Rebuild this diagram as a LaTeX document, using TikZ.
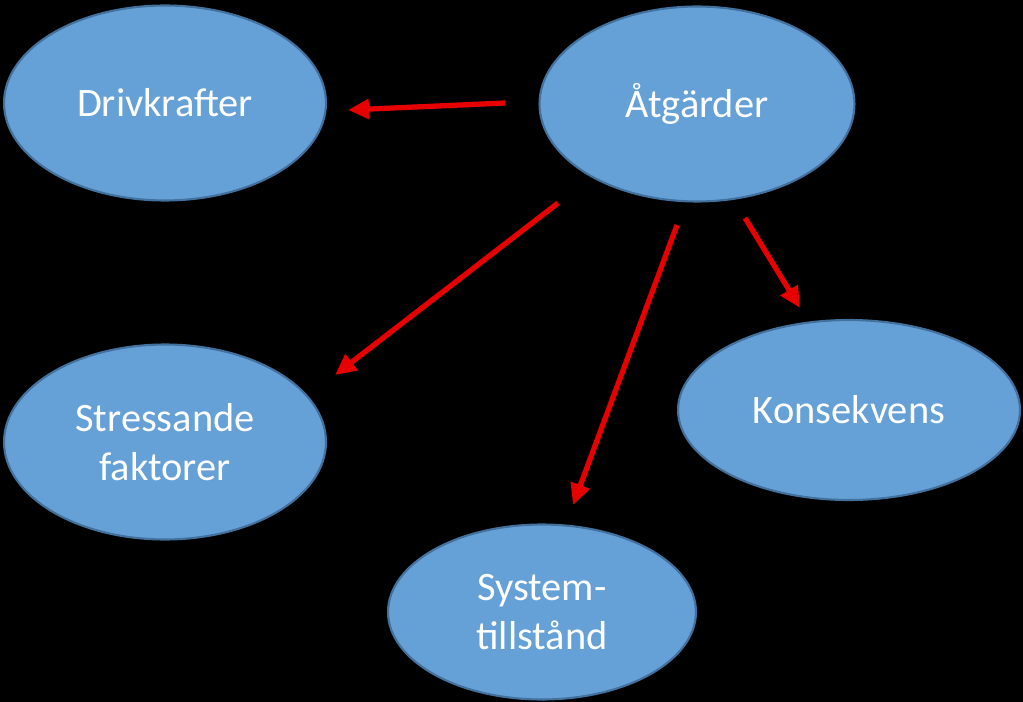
\documentclass[tikz,border=0pt]{standalone}
\usepackage{fontspec}
\setmainfont{Carlito}
\usetikzlibrary{arrows.meta,shapes.geometric}
\definecolor{blob}{RGB}{101,160,214}
\definecolor{blobrim}{RGB}{65,113,156}
\definecolor{pil}{RGB}{230,0,0}
\begin{document}
\begin{tikzpicture}[x=0.02cm,y=-0.02cm,
    blobnode/.style={ellipse,fill=blob,draw=blobrim,line width=1.2pt,text=white,
      align=center,font=\fontsize{23}{28}\selectfont,inner sep=0pt},
    pilen/.style={pil,line width=3pt,-{Triangle[length=12pt,width=11pt]}}]
		% Bakgrund
		\fill[black] (0,0) rectangle (1023,702);
		\useasboundingbox (0,0) rectangle (1023,702);

		% Ellipser
		\node[blobnode,minimum width=6.44cm,minimum height=3.9cm] (driv) at (165,103) {Drivkrafter};
		\node[blobnode,minimum width=6.3cm,minimum height=3.9cm] (atg) at (697,104) {Åtgärder};
		\node[blobnode,minimum width=6.44cm,minimum height=3.9cm] (stress) at (165,442) {Stressande\\faktorer};
		\node[blobnode,minimum width=6.84cm,minimum height=3.6cm] (kons) at (849,410) {Konsekvens};
		\node[blobnode,minimum width=6.16cm,minimum height=3.5cm] (sys) at (542,612) {System-\\tillstånd};

		% Pilspetsar
		\coordinate (s1) at (505,103); \coordinate (e1) at (348,110);
		\coordinate (s2) at (558,203); \coordinate (e2) at (335,375);
		\coordinate (s3) at (677,225); \coordinate (e3) at (573,505);
		\coordinate (s4) at (745,218); \coordinate (e4) at (800,308);

		% Pilar
		\draw[pilen] (s1) -- (e1);
		\draw[pilen] (s2) -- (e2);
		\draw[pilen] (s3) -- (e3);
		\draw[pilen] (s4) -- (e4);
	\end{tikzpicture}
\end{document}
